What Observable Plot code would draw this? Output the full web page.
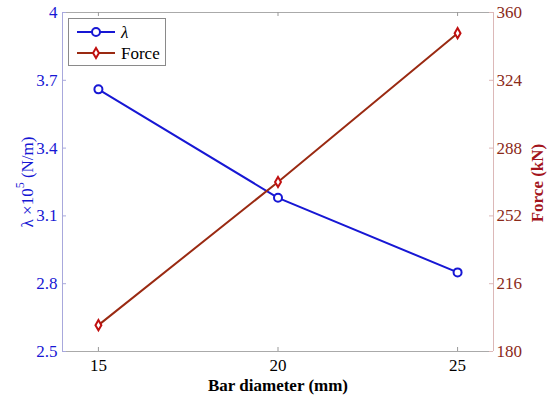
<!DOCTYPE html>
<html>
<head>
<meta charset="utf-8">
<script src="https://cdn.jsdelivr.net/npm/d3@7"></script>
<script src="https://cdn.jsdelivr.net/npm/@observablehq/plot@0.6"></script>
<style>
  html, body { margin: 0; padding: 0; background: white; }
</style>
</head>
<body>
<div id="chart"></div>
<script>
const diameters = [15, 20, 25];
const lambdaValues = [3.66, 3.18, 2.85];
const forceValues = [194, 270, 349];
const xTicks = [15, 20, 25];
const lambdaTicks = [2.5, 2.8, 3.1, 3.4, 3.7, 4];
const forceTicks = [180, 216, 252, 288, 324, 360];

const lDomain = [2.5, 4];
const fDomain = [180, 360];
const toL = f => lDomain[0] + (f - fDomain[0]) / (fDomain[1] - fDomain[0]) * (lDomain[1] - lDomain[0]);
const fromL = l => fDomain[0] + (l - lDomain[0]) / (lDomain[1] - lDomain[0]) * (fDomain[1] - fDomain[0]);

const data = diameters.map((d, i) => ({d, lambda: lambdaValues[i], force: forceValues[i]}));

const W = 550, H = 398, mL = 62, mR = 57, mT = 12, mB = 47;
const pw = W - mL - mR, ph = H - mT - mB;

const blue = "#1717d4";
const brown = "#9a2a12";
const red = "#c01010";
const serif = "Liberation Serif";

const chart = Plot.plot({
  width: W, height: H,
  marginLeft: mL, marginRight: mR, marginTop: mT, marginBottom: mB,
  x: {domain: [14, 26]},
  y: {domain: lDomain},
  style: {fontFamily: serif, fontSize: "17px", background: "white", overflow: "visible"},
  marks: [
    // box
    Plot.ruleY([lDomain[1]], {stroke: "#aaaaaa", strokeWidth: 1}),
    Plot.ruleY([lDomain[0]], {stroke: "#aaaaaa", strokeWidth: 1}),
    Plot.ruleX([14], {stroke: "#a8a8dc", strokeWidth: 1}),
    Plot.ruleX([26], {stroke: "#dcb8b8", strokeWidth: 1}),
    // inward ticks
    Plot.tickY(lambdaTicks, {y: d => d, insetRight: pw - 4, stroke: "#a8a8dc"}),
    Plot.tickY(forceTicks.map(toL), {y: d => d, insetLeft: pw - 4, stroke: "#dcb8b8"}),
    Plot.tickX(xTicks, {x: d => d, insetTop: ph - 4, stroke: "#999"}),
    Plot.tickX(xTicks, {x: d => d, insetBottom: ph - 4, stroke: "#999"}),
    // axes labels
    Plot.axisY({anchor: "left", ticks: lambdaTicks, tickFormat: d => String(d), tickSize: 0, tickPadding: 5, fill: blue, label: null, fontFamily: serif, fontSize: 17}),
    Plot.axisY({anchor: "right", ticks: forceTicks.map(toL), tickFormat: d => String(Math.round(fromL(d))), tickSize: 0, tickPadding: 3, fill: "#8b2a1a", label: null, fontFamily: serif, fontSize: 17}),
    Plot.axisX({ticks: xTicks, tickFormat: d => String(d), tickSize: 0, tickPadding: 7, fill: "black", label: null, fontFamily: serif, fontSize: 17}),
    // data
    Plot.line(data, {x: "d", y: "lambda", stroke: blue, strokeWidth: 2}),
    Plot.dot(data, {x: "d", y: "lambda", symbol: "circle", r: 4, stroke: blue, strokeWidth: 2, fill: "white"}),
    Plot.line(data, {x: "d", y: d => toL(d.force), stroke: brown, strokeWidth: 2}),
    Plot.dot(data, {x: "d", y: d => toL(d.force), symbol: "diamond", r: 3.1, stroke: red, strokeWidth: 2, fill: "white"}),
    // x label
    Plot.text(["Bar diameter (mm)"], {frameAnchor: "bottom", lineAnchor: "middle", dy: 34, fontWeight: "bold", fontSize: 17, fill: "black", fontFamily: serif, text: d => d})
  ]
});

document.getElementById("chart").appendChild(chart);

const svg = d3.select(chart);
svg.selectAll("[aria-label$='axis tick label'] text, g[aria-label*='tick label']").attr("font-family", serif);

// left y label
const lt = svg.append("text")
  .attr("transform", "translate(27,182) rotate(-90)")
  .attr("text-anchor", "middle")
  .attr("dominant-baseline", "central")
  .attr("fill", blue)
  .attr("font-family", serif)
  .attr("font-size", 17);
lt.append("tspan").text("λ ×10");
lt.append("tspan").attr("dy", -7).attr("font-size", 12).text("5");
lt.append("tspan").attr("dy", 7).text(" (N/m)");

// right y label
svg.append("text")
  .attr("transform", "translate(537,183) rotate(-90)")
  .attr("text-anchor", "middle")
  .attr("dominant-baseline", "central")
  .attr("fill", "#a3141c")
  .attr("font-weight", "bold")
  .attr("font-family", serif)
  .attr("font-size", 17)
  .text("Force (kN)");

// legend
const lg = svg.append("g");
lg.append("rect").attr("x", 68.5).attr("y", 18.5).attr("width", 97).attr("height", 47)
  .attr("fill", "white").attr("stroke", "#8a8a8a");
lg.append("line").attr("x1", 77).attr("x2", 115).attr("y1", 32).attr("y2", 32).attr("stroke", blue).attr("stroke-width", 2);
lg.append("circle").attr("cx", 96).attr("cy", 32).attr("r", 4).attr("fill", "white").attr("stroke", blue).attr("stroke-width", 2);
lg.append("text").attr("x", 121).attr("y", 32).attr("dominant-baseline", "central").attr("text-anchor", "start")
  .attr("font-family", serif).attr("font-size", 17).attr("font-style", "italic").text("λ");
lg.append("line").attr("x1", 77).attr("x2", 115).attr("y1", 53).attr("y2", 53).attr("stroke", brown).attr("stroke-width", 2);
lg.append("path").attr("transform", "translate(96,53)")
  .attr("d", d3.symbol(d3.symbolDiamond, Math.PI * 3.1 * 3.1)())
  .attr("fill", "white").attr("stroke", red).attr("stroke-width", 2);
lg.append("text").attr("x", 121).attr("y", 53).attr("dominant-baseline", "central").attr("text-anchor", "start")
  .attr("font-family", serif).attr("font-size", 17).text("Force");
</script>
</body>
</html>
